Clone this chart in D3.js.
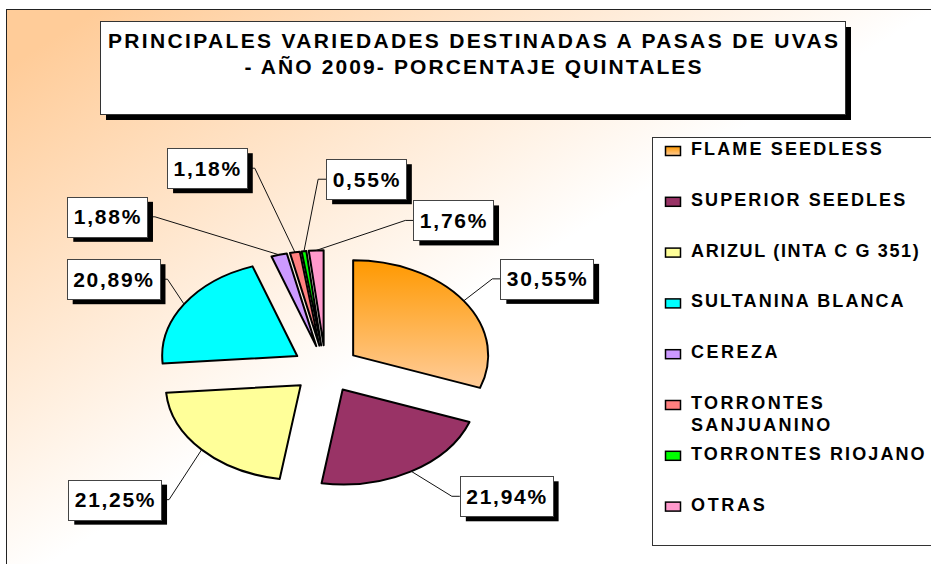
<!DOCTYPE html>
<html lang="es">
<head>
<meta charset="utf-8">
<title>Principales variedades destinadas a pasas de uvas - 2009</title>
<script src="https://cdn.jsdelivr.net/npm/d3@7"></script>
<style>
  body { margin: 0; background: #fff; }
  svg { display: block; font-family: "Liberation Sans", Arial, sans-serif; font-weight: bold; }
</style>
</head>
<body>
<script>
// data
var titleLines = ["PRINCIPALES VARIEDADES DESTINADAS A PASAS DE UVAS", "- AÑO 2009- PORCENTAJE QUINTALES"];
var varieties = ["FLAME SEEDLESS", "SUPERIOR SEEDLES", "ARIZUL (INTA C G 351)", "SULTANINA BLANCA",
                 "CEREZA", "TORRONTES SANJUANINO", "TORRONTES RIOJANO", "OTRAS"];
var shares = [30.55, 21.94, 21.25, 20.89, 1.88, 1.18, 0.55, 1.76];
var fills = ["url(#flameGrad)", "#993366", "#FFFF99", "#00FFFF", "#CC99FF", "#FF8080", "#00FF00", "#FF99CC"];

// label box nudges relative to the slice anchor (layout only)
var labelNudge = [[83, -22], [95, 25], [-87, 50], [-71, -25], [-172, -38], [-88, -84], [62, -72], [137, -30]];

var w = 931, h = 564;
var cx = 325.5, cy = 369, rx = 135, ry = 95, explode = 0.25;

var svg = d3.select("body").append("svg").attr("width", w).attr("height", h);
var defs = svg.append("defs");

var bg = defs.append("linearGradient").attr("id", "bgGrad")
  .attr("gradientUnits", "userSpaceOnUse")
  .attr("x1", 0).attr("y1", 0).attr("x2", 267).attr("y2", 427);
bg.append("stop").attr("offset", 0.12).attr("stop-color", "#FFCC99");
bg.append("stop").attr("offset", 1).attr("stop-color", "#FFFFFF");

var fg = defs.append("linearGradient").attr("id", "flameGrad")
  .attr("x1", 0).attr("y1", 0).attr("x2", 0).attr("y2", 1);
fg.append("stop").attr("offset", 0).attr("stop-color", "#FF9900");
fg.append("stop").attr("offset", 1).attr("stop-color", "#FFCC99");

// chart area
svg.append("rect").attr("x", 6.5).attr("y", 9.5).attr("width", 940).attr("height", 570)
  .attr("fill", "url(#bgGrad)").attr("stroke", "#222").attr("stroke-width", 1);

// title box
svg.append("rect").attr("x", 106).attr("y", 27).attr("width", 745).attr("height", 93).attr("fill", "#000");
svg.append("rect").attr("x", 100.5).attr("y", 21.5).attr("width", 745).attr("height", 93)
  .attr("fill", "#fff").attr("stroke", "#333");
var titleLen = [730, 457];
titleLines.forEach(function(t, i) {
  svg.append("text")
    .attr("x", 473 - titleLen[i] / 2).attr("y", 48 + i * 26)
    .attr("font-size", 21)
    .attr("textLength", titleLen[i]).attr("lengthAdjust", "spacing")
    .text(t);
});

// pie
var pie = d3.pie().sort(null).value(function(d) { return d; });
var arcs = pie(shares);
var arc = d3.arc().innerRadius(0).outerRadius(1);
var mid = function(d) { return (d.startAngle + d.endAngle) / 2; };

var pieG = svg.append("g").attr("transform", "translate(" + cx + "," + cy + ") scale(" + rx + "," + ry + ")");
pieG.selectAll("path")
  .data(arcs)
  .enter()
  .append("path")
  .attr("d", arc)
  .attr("transform", function(d) {
    var a = mid(d);
    return "translate(" + (explode * Math.sin(a)) + "," + (-explode * Math.cos(a)) + ")";
  })
  .attr("fill", function(d, i) { return fills[i]; })
  .attr("stroke", "#000")
  .attr("stroke-width", 2)
  .attr("stroke-linejoin", "round")
  .attr("vector-effect", "non-scaling-stroke");

// data labels
var fmt = function(v) { return d3.format(".2f")(v).replace(".", ",") + "%"; };
var labelG = svg.append("g");
arcs.forEach(function(d, i) {
  var a = mid(d);
  var ax = cx + (1 + explode) * rx * Math.sin(a);
  var ay = cy - (1 + explode) * ry * Math.cos(a);
  var bx = ax + labelNudge[i][0], by = ay + labelNudge[i][1];

  var txt = labelG.append("text").attr("font-size", 21).text(fmt(shares[i]));
  var tl = txt.node().getComputedTextLength() * 1.12;
  var bw = tl + 13, bh = 40;
  var left = bx - bw / 2, top = by - bh / 2;
  var edge = bx > ax ? left : left + bw;
  var elbow = bx > ax ? edge - 8 : edge + 8;

  labelG.append("polyline")
    .attr("points", [[ax, ay], [elbow, by], [edge, by]].map(function(p) { return p.join(","); }).join(" "))
    .attr("fill", "none").attr("stroke", "#111").attr("stroke-width", 1);
  labelG.append("rect").attr("x", left + 6).attr("y", top + 5).attr("width", bw).attr("height", bh).attr("fill", "#000");
  labelG.append("rect").attr("x", Math.round(left) + 0.5).attr("y", Math.round(top) + 0.5)
    .attr("width", Math.round(bw)).attr("height", bh)
    .attr("fill", "#fff").attr("stroke", "#444");
  txt.raise()
    .attr("x", bx - tl / 2).attr("y", by + 7.5)
    .attr("textLength", tl).attr("lengthAdjust", "spacing");
});

// legend
svg.append("rect").attr("x", 652.5).attr("y", 137.5).attr("width", 300).attr("height", 408)
  .attr("fill", "#fff").attr("stroke", "#333");
var legG = svg.append("g");
var legStretch = 1.17;
varieties.forEach(function(name, i) {
  var base = 155 + i * 50.8;
  legG.append("rect").attr("x", 665.5).attr("y", base - 8.5).attr("width", 15).attr("height", 9)
    .attr("fill", fills[i]).attr("stroke", "#000").attr("stroke-width", 1.5);
  var t = legG.append("text").attr("x", 691).attr("y", base).attr("font-size", 18).text(name);
  var len = t.node().getComputedTextLength() * legStretch;
  if (len > 245) {
    var words = name.split(" ");
    t.text(words[0]);
    t.attr("textLength", t.node().getComputedTextLength() * legStretch).attr("lengthAdjust", "spacing");
    var t2 = legG.append("text").attr("x", 691).attr("y", base + 22).attr("font-size", 18).text(words.slice(1).join(" "));
    t2.attr("textLength", t2.node().getComputedTextLength() * legStretch).attr("lengthAdjust", "spacing");
  } else {
    t.attr("textLength", len).attr("lengthAdjust", "spacing");
  }
});
</script>
</body>
</html>
